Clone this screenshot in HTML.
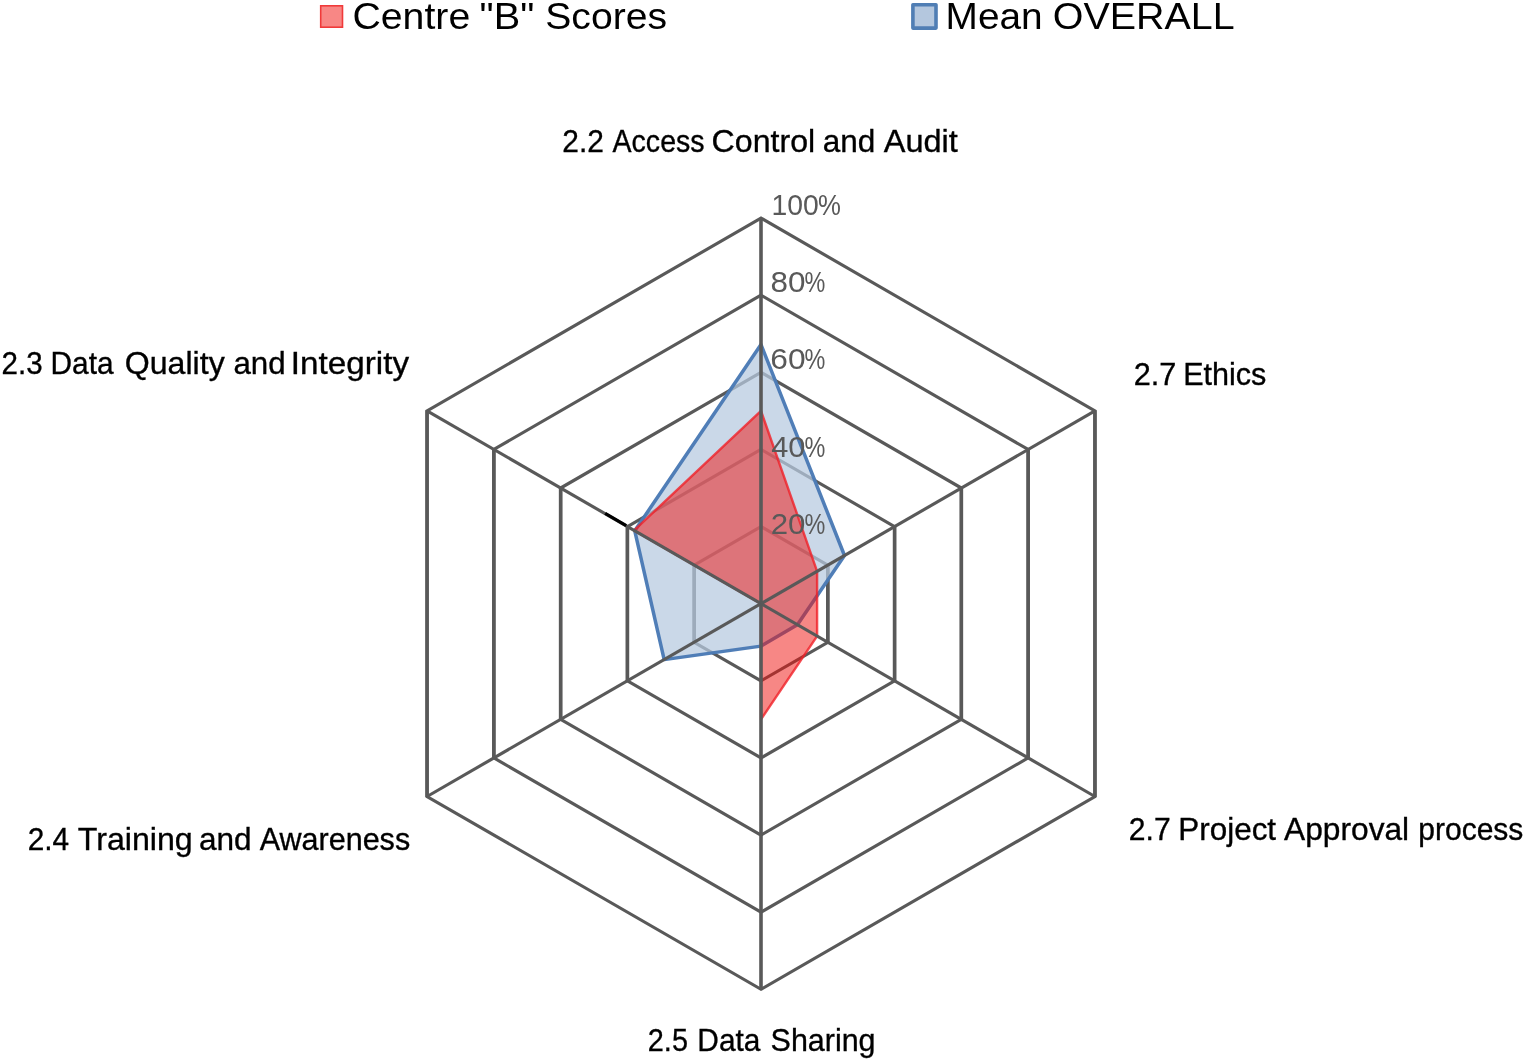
<!DOCTYPE html>
<html lang="en">
<head>
<meta charset="utf-8">
<title>Radar chart: Centre "B" Scores vs Mean OVERALL</title>
<style>
html,body{margin:0;padding:0;background:#fff;}
body{width:1525px;height:1060px;overflow:hidden;}
svg{display:block;}
text{font-family:"Liberation Sans",sans-serif;}
.ax{font-size:32px;fill:#000;stroke:#000;stroke-width:0.35px;}
.tk{font-size:29.3px;fill:#595959;}
.lg{font-size:37.8px;fill:#000;}
</style>
</head>
<body>
<svg width="1525" height="1060" viewBox="0 0 1525 1060">
<rect width="1525" height="1060" fill="#ffffff"/>

<g fill="none" stroke="#595959" stroke-width="3.15" stroke-linejoin="miter">
<polygon points="761.00,526.58 694.21,565.14 694.21,642.26 761.00,680.82 827.79,642.26 827.79,565.14"/>
<polygon points="761.00,449.46 627.42,526.58 627.42,680.82 761.00,757.94 894.58,680.82 894.58,526.58"/>
<polygon points="761.00,372.34 560.64,488.02 560.64,719.38 761.00,835.06 961.36,719.38 961.36,488.02"/>
<polygon points="761.00,295.22 493.85,449.46 493.85,757.94 761.00,912.18 1028.15,757.94 1028.15,449.46"/>
<polygon points="761.00,218.10 427.06,410.90 427.06,796.50 761.00,989.30 1094.94,796.50 1094.94,410.90"/>
</g>
<g stroke="#595959" stroke-width="3.6" stroke-linecap="butt">
<line x1="694.21" y1="564.54" x2="694.21" y2="642.86"/>
<line x1="827.79" y1="564.54" x2="827.79" y2="642.86"/>
<line x1="627.42" y1="525.98" x2="627.42" y2="681.42"/>
<line x1="894.58" y1="525.98" x2="894.58" y2="681.42"/>
<line x1="560.64" y1="487.42" x2="560.64" y2="719.98"/>
<line x1="961.36" y1="487.42" x2="961.36" y2="719.98"/>
<line x1="493.85" y1="448.86" x2="493.85" y2="758.54"/>
<line x1="1028.15" y1="448.86" x2="1028.15" y2="758.54"/>
<line x1="427.06" y1="410.30" x2="427.06" y2="797.10"/>
<line x1="1094.94" y1="410.30" x2="1094.94" y2="797.10"/>
</g>
<polygon points="761.00,344.58 634.77,530.82 664.16,659.61 761.00,646.12 797.40,624.72 844.48,555.50" fill="#b6cae0" fill-opacity="0.73" stroke="#4a7ab5" stroke-opacity="0.97" stroke-width="3.5" stroke-linejoin="round"/>
<polygon points="761.00,410.90 634.10,530.44 761.00,603.70 761.00,719.38 817.10,636.09 817.10,571.31" fill="#f00f0c" fill-opacity="0.5" stroke="#f02028" stroke-opacity="0.8" stroke-width="2.4" stroke-linejoin="round"/>
<g stroke="#595959" stroke-width="3.15" stroke-linecap="butt">
<line x1="761.00" y1="603.70" x2="761.00" y2="218.10" stroke-width="3.6"/>
<line x1="761.00" y1="603.70" x2="427.06" y2="410.90" stroke-width="3.15"/>
<line x1="761.00" y1="603.70" x2="427.06" y2="796.50" stroke-width="3.15"/>
<line x1="761.00" y1="603.70" x2="761.00" y2="989.30" stroke-width="3.6"/>
<line x1="761.00" y1="603.70" x2="1094.94" y2="796.50" stroke-width="3.15"/>
<line x1="761.00" y1="603.70" x2="1094.94" y2="410.90" stroke-width="3.15"/>
</g>
<line x1="605.2" y1="513.4" x2="626.2" y2="525.6" stroke="#000" stroke-width="3.2"/>
<text class="tk" y="215.0"><tspan x="771.52" textLength="47.28" lengthAdjust="spacingAndGlyphs">100</tspan><tspan x="818.02" textLength="22.91" lengthAdjust="spacingAndGlyphs">%</tspan></text>
<text class="tk" y="292.3"><tspan x="770.56" textLength="34.95" lengthAdjust="spacingAndGlyphs">80</tspan><tspan x="804.40" textLength="20.85" lengthAdjust="spacingAndGlyphs">%</tspan></text>
<text class="tk" y="369.3"><tspan x="770.28" textLength="35.24" lengthAdjust="spacingAndGlyphs">60</tspan><tspan x="804.40" textLength="20.85" lengthAdjust="spacingAndGlyphs">%</tspan></text>
<text class="tk" y="457.0"><tspan x="771.24" textLength="34.24" lengthAdjust="spacingAndGlyphs">40</tspan><tspan x="804.40" textLength="20.85" lengthAdjust="spacingAndGlyphs">%</tspan></text>
<text class="tk" y="533.7"><tspan x="770.70" textLength="34.80" lengthAdjust="spacingAndGlyphs">20</tspan><tspan x="804.40" textLength="20.85" lengthAdjust="spacingAndGlyphs">%</tspan></text>
<text class="ax" y="151.9"><tspan x="562.28" textLength="41.52" lengthAdjust="spacingAndGlyphs">2.2</tspan> <tspan x="612.59" textLength="91.93" lengthAdjust="spacingAndGlyphs">Access</tspan> <tspan x="711.57" textLength="103.60" lengthAdjust="spacingAndGlyphs">Control</tspan> <tspan x="822.65" textLength="52.54" lengthAdjust="spacingAndGlyphs">and</tspan> <tspan x="883.77" textLength="74.02" lengthAdjust="spacingAndGlyphs">Audit</tspan></text>
<text class="ax" y="373.8"><tspan x="1.50" textLength="41.05" lengthAdjust="spacingAndGlyphs">2.3</tspan> <tspan x="50.55" textLength="63.02" lengthAdjust="spacingAndGlyphs">Data</tspan> <tspan x="124.80" textLength="99.90" lengthAdjust="spacingAndGlyphs">Quality</tspan> <tspan x="233.46" textLength="52.22" lengthAdjust="spacingAndGlyphs">and</tspan> <tspan x="290.88" textLength="118.20" lengthAdjust="spacingAndGlyphs">Integrity</tspan></text>
<text class="ax" y="850.4"><tspan x="27.69" textLength="41.43" lengthAdjust="spacingAndGlyphs">2.4</tspan> <tspan x="77.75" textLength="115.01" lengthAdjust="spacingAndGlyphs">Training</tspan> <tspan x="199.04" textLength="52.64" lengthAdjust="spacingAndGlyphs">and</tspan> <tspan x="259.68" textLength="150.48" lengthAdjust="spacingAndGlyphs">Awareness</tspan></text>
<text class="ax" y="1050.6"><tspan x="647.84" textLength="40.09" lengthAdjust="spacingAndGlyphs">2.5</tspan> <tspan x="697.35" textLength="63.12" lengthAdjust="spacingAndGlyphs">Data</tspan> <tspan x="770.57" textLength="104.98" lengthAdjust="spacingAndGlyphs">Sharing</tspan></text>
<text class="ax" y="839.7"><tspan x="1128.87" textLength="41.84" lengthAdjust="spacingAndGlyphs">2.7</tspan> <tspan x="1178.32" textLength="97.79" lengthAdjust="spacingAndGlyphs">Project</tspan> <tspan x="1284.08" textLength="125.07" lengthAdjust="spacingAndGlyphs">Approval</tspan> <tspan x="1418.31" textLength="104.99" lengthAdjust="spacingAndGlyphs">process</tspan></text>
<text class="ax" y="384.7"><tspan x="1133.64" textLength="42.60" lengthAdjust="spacingAndGlyphs">2.7</tspan> <tspan x="1183.19" textLength="83.20" lengthAdjust="spacingAndGlyphs">Ethics</tspan></text>
<rect x="320.7" y="5.8" width="21.8" height="21.4" fill="#f88785" stroke="#f03a3a" stroke-width="1.6"/>
<text class="lg" y="29.3"><tspan x="352.45" textLength="117.82" lengthAdjust="spacingAndGlyphs">Centre</tspan> <tspan x="479.59" textLength="54.66" lengthAdjust="spacingAndGlyphs">&quot;B&quot;</tspan> <tspan x="545.29" textLength="121.75" lengthAdjust="spacingAndGlyphs">Scores</tspan></text>
<rect x="912.9" y="4.7" width="23.1" height="23.4" fill="#b4c7de" stroke="#507eb4" stroke-width="3.6" stroke-linejoin="round"/>
<text class="lg" y="29.3"><tspan x="945.59" textLength="97.01" lengthAdjust="spacingAndGlyphs">Mean</tspan> <tspan x="1052.78" textLength="181.83" lengthAdjust="spacingAndGlyphs">OVERALL</tspan></text>
</svg>
</body>
</html>
